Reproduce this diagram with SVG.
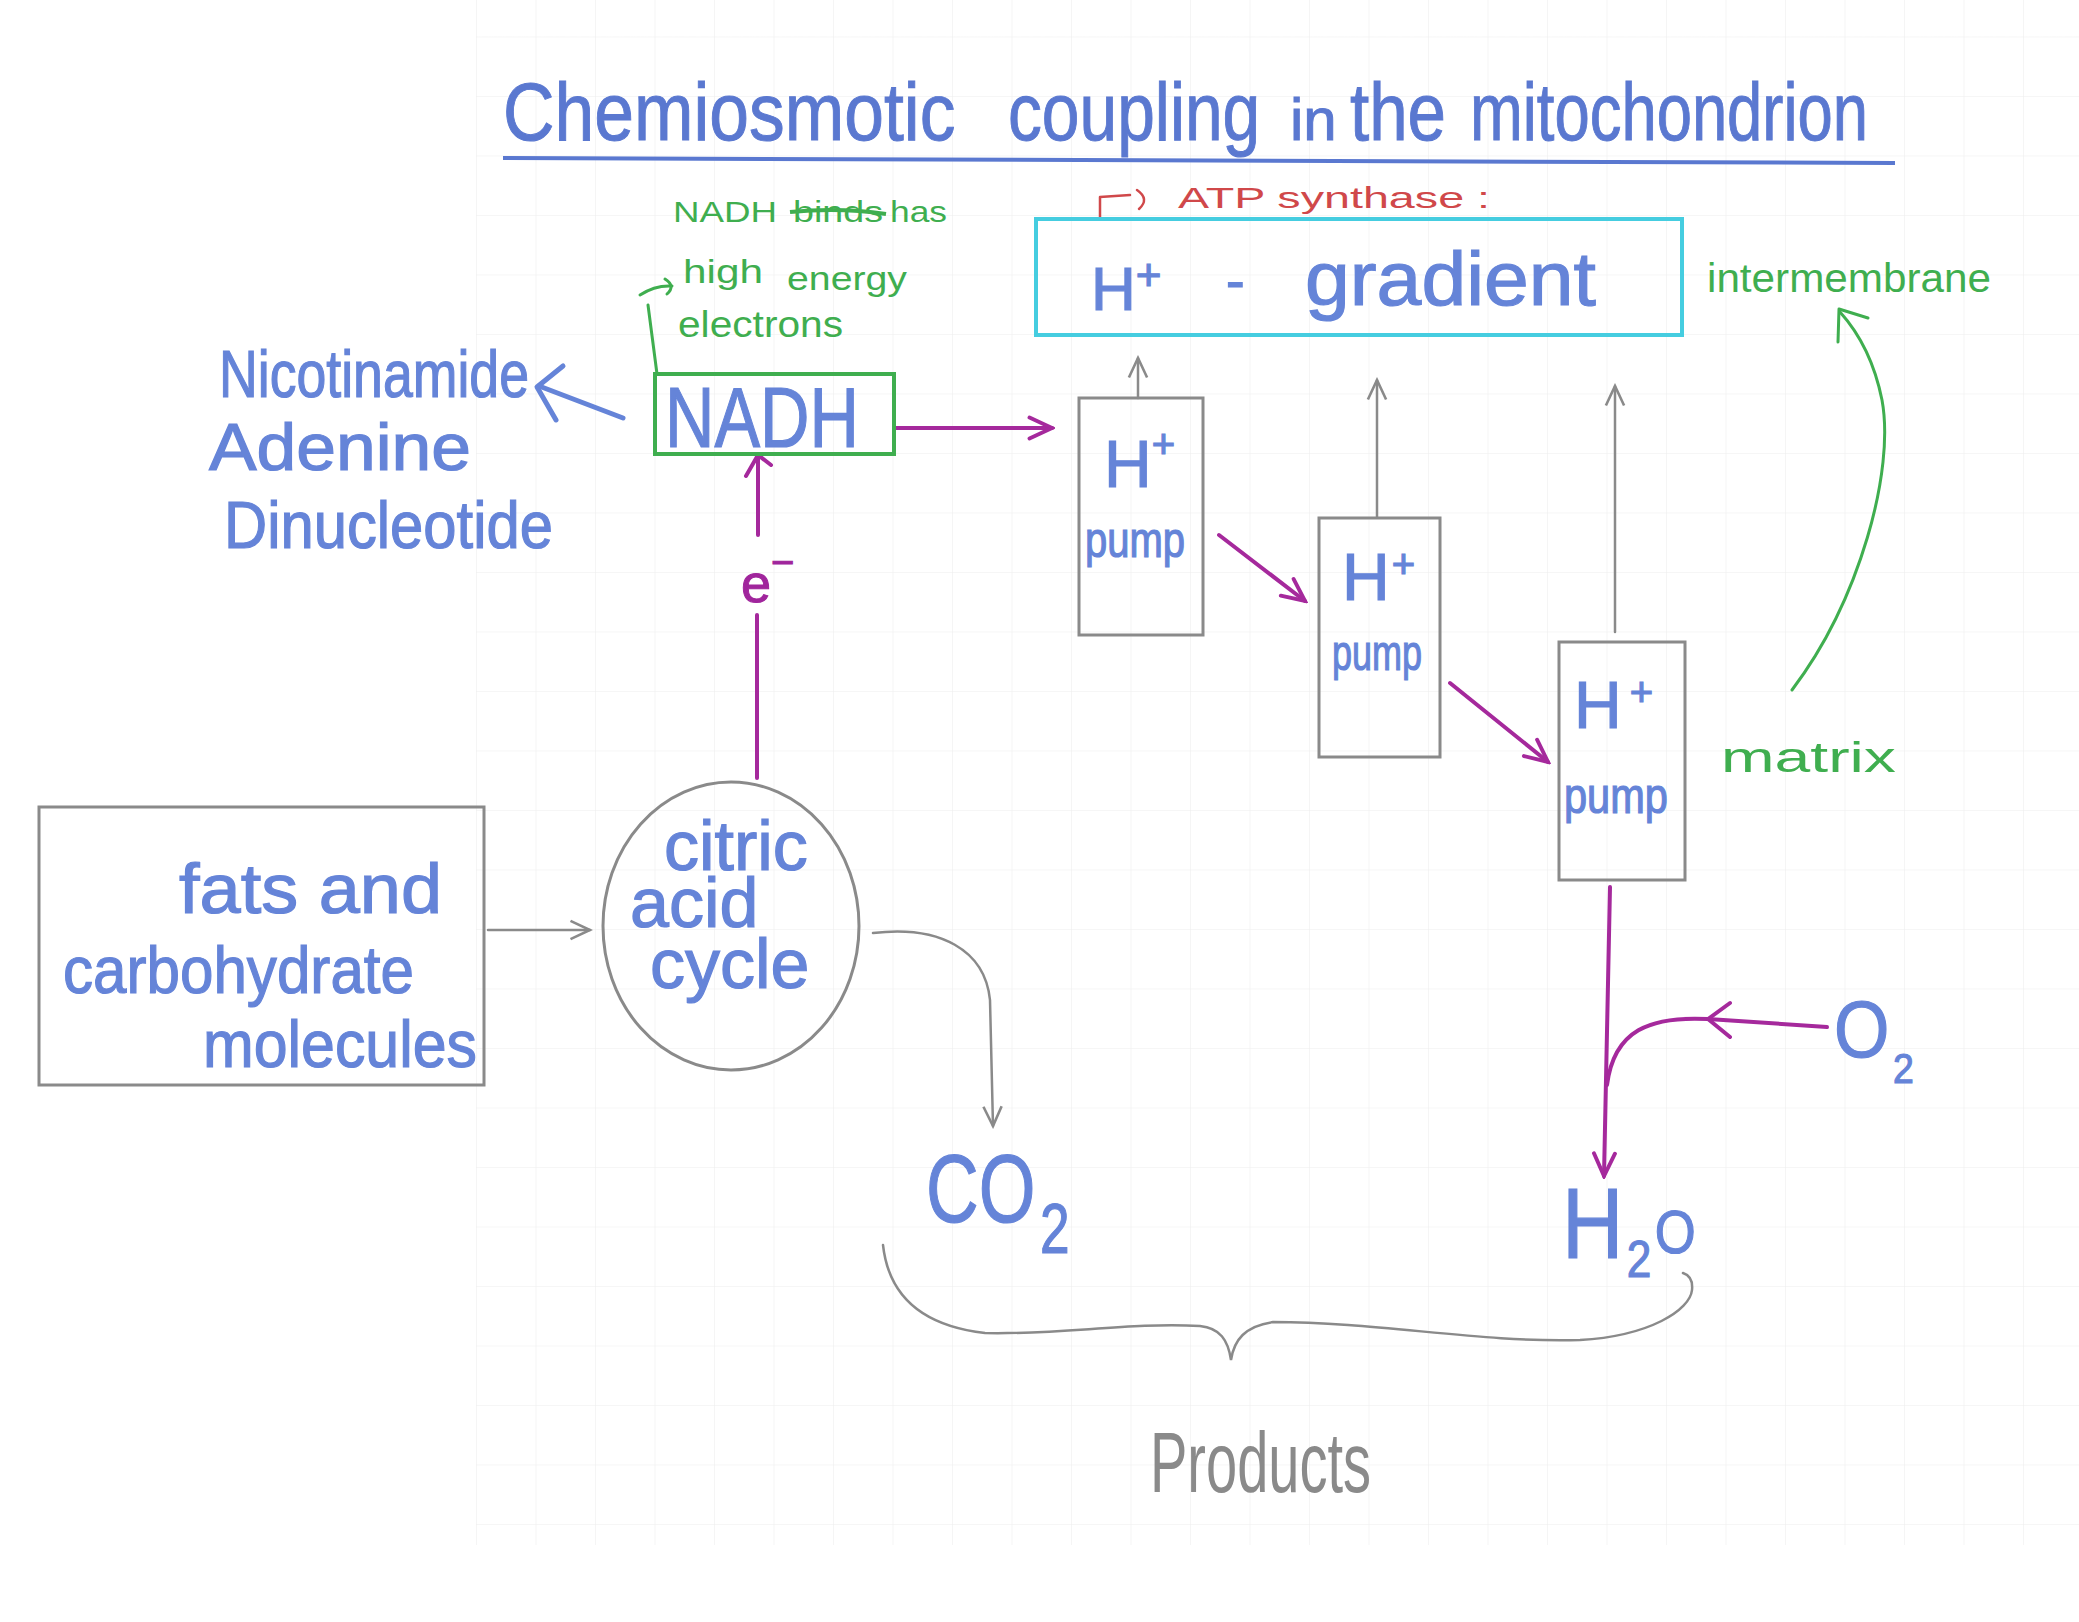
<svg xmlns="http://www.w3.org/2000/svg" width="2079" height="1622" viewBox="0 0 2079 1622">
<style>
text{font-family:"Liberation Sans",Arial,sans-serif}
.blue{fill:#6584d8;stroke:#6584d8;stroke-width:1.2}
.title{fill:#5a78d0;stroke:#5a78d0;stroke-width:1}
.green{fill:#3fae4f}
.red{fill:#d0484a}
.purpleT{fill:#a0259c;stroke:#a0259c;stroke-width:1}
.grayT{fill:#8a8a8a}
.box{fill:none;stroke:#8a8a8a;stroke-width:3}
.gline{fill:none;stroke:#8a8a8a;stroke-width:2.5;stroke-linecap:round}
.pline{fill:none;stroke:#a5299c;stroke-width:4;stroke-linecap:round;stroke-linejoin:round}
.grline{fill:none;stroke:#3fae4f;stroke-width:3;stroke-linecap:round;stroke-linejoin:round}
.bline{fill:none;stroke:#6584d8;stroke-width:5;stroke-linecap:round;stroke-linejoin:round}
.rline{fill:none;stroke:#d0484a;stroke-width:2.5;stroke-linecap:round;stroke-linejoin:round}
</style>
<defs>
<pattern id="grid" x="476" y="36.5" width="59.5" height="59.5" patternUnits="userSpaceOnUse">
<path d="M0,0 L0,59.5 M0,0 L59.5,0" fill="none" stroke="#eeeeee" stroke-width="1.2"/>
</pattern>
<marker id="ahGray" viewBox="0 0 20 20" refX="18" refY="10" markerWidth="26" markerHeight="26" markerUnits="userSpaceOnUse" orient="auto">
<path d="M3,3 L18,10 L3,17" fill="none" stroke="#8a8a8a" stroke-width="2"/>
</marker>
<marker id="ahPurple" viewBox="0 0 20 20" refX="18" refY="10" markerWidth="30" markerHeight="30" markerUnits="userSpaceOnUse" orient="auto">
<path d="M3,3 L18,10 L3,17" fill="none" stroke="#a5299c" stroke-width="2.6" stroke-linecap="round"/>
</marker>
</defs>
<rect x="0" y="0" width="2079" height="1622" fill="#ffffff"/>
<rect x="476" y="0" width="1603" height="1545" fill="url(#grid)"/>

<g id="title">
<text class="title" transform="translate(503,140) scale(0.871,1)" x="0" y="0" font-size="82">Chemiosmotic</text>
<text class="title" transform="translate(1008,140) scale(0.826,1)" x="0" y="0" font-size="82">coupling</text>
<text class="title" x="1290" y="140" font-size="60">in</text>
<text class="title" transform="translate(1350,140) scale(0.842,1)" x="0" y="0" font-size="82">the</text>
<text class="title" transform="translate(1470,140) scale(0.773,1)" x="0" y="0" font-size="82">mitochondrion</text>
<path d="M503,158 L1895,163" fill="none" stroke="#5a78d0" stroke-width="4"/>
</g>

<g id="connectors">
<!-- NADH to Nicotinamide -->
<path class="bline" d="M623,418 L539,386"/>
<path class="bline" d="M563,366 L537,387 L556,420"/>
<!-- NADH to first pump -->
<path class="pline" d="M895,428 L1052,428" marker-end="url(#ahPurple)"/>
<!-- citric cycle to NADH via e- -->
<path class="pline" d="M757,778 L757,615"/>
<path class="pline" d="M758,535 L758,457"/>
<path class="pline" d="M746,476 L758,455 L771,465"/>
<!-- pumps up to gradient -->
<path class="gline" d="M1138,398 L1138,358" marker-end="url(#ahGray)"/>
<path class="gline" d="M1377,517 L1377,380" marker-end="url(#ahGray)"/>
<path class="gline" d="M1615,632 L1615,386" stroke-width="3.5" marker-end="url(#ahGray)"/>
<!-- pump to pump -->
<path class="pline" d="M1219,535 L1305,601" marker-end="url(#ahPurple)"/>
<path class="pline" d="M1450,683 L1548,762" marker-end="url(#ahPurple)"/>
<!-- last pump to H2O -->
<path class="pline" d="M1610,887 L1604,1176" marker-end="url(#ahPurple)"/>
<!-- O2 joining -->
<path class="pline" d="M1827,1027 L1708,1019 C1650,1016 1614,1030 1607,1085"/>
<path class="pline" d="M1730,1003 L1708,1019 L1730,1037"/>
<!-- fats to citric -->
<path class="gline" d="M488,930 L590,930" marker-end="url(#ahGray)"/>
<!-- citric to CO2 -->
<path class="gline" d="M873,933 C940,925 985,950 990,1000 L993,1126" marker-end="url(#ahGray)"/>
<!-- matrix to intermembrane -->
<path class="grline" d="M1792,690 C1860,600 1895,470 1882,400 C1874,360 1858,332 1840,312"/>
<path class="grline" d="M1838,342 L1839,309 L1868,318" stroke-width="4"/>
<!-- ATP synthase pointer -->
<path class="rline" d="M1100,217 L1100,197 L1130,195"/>
<path class="rline" d="M1137,190 Q1150,199 1139,209"/>
<!-- products brace -->
<path class="gline" d="M883,1245 C888,1290 915,1325 985,1333 C1060,1335 1130,1322 1200,1326 C1220,1328 1228,1340 1231,1360 C1234,1340 1245,1326 1273,1322 C1380,1322 1480,1343 1580,1340 C1650,1336 1690,1310 1692,1290 C1693,1280 1689,1275 1683,1273" stroke-width="3"/>
</g>

<g id="atp-synthase">
<text class="red" x="1178" y="208" font-size="29" textLength="312" lengthAdjust="spacingAndGlyphs">ATP synthase :</text>
</g>

<g id="gradient">
<rect x="1036" y="219" width="646" height="116" fill="none" stroke="#45cde0" stroke-width="4"/>
<text class="blue" x="1091" y="310" font-size="62">H<tspan dy="-20" font-size="44">+</tspan></text>
<text class="blue" x="1226" y="300" font-size="56">-</text>
<text class="blue" x="1305" y="305" font-size="76" textLength="291" lengthAdjust="spacingAndGlyphs">gradient</text>
</g>

<g id="intermembrane">
<text class="green" x="1707" y="292" font-size="40" textLength="284" lengthAdjust="spacingAndGlyphs">intermembrane</text>
</g>
<g id="matrix">
<text class="green" x="1721" y="772" font-size="42" textLength="175" lengthAdjust="spacingAndGlyphs">matrix</text>
</g>

<g id="nadh-note">
<text class="green" x="673" y="222" font-size="30" textLength="104" lengthAdjust="spacingAndGlyphs">NADH</text>
<text class="green" x="793" y="222" font-size="30" textLength="90" lengthAdjust="spacingAndGlyphs">binds</text>
<path d="M790,212 Q840,207 886,214" fill="none" stroke="#3fae4f" stroke-width="4"/>
<text class="green" x="890" y="222" font-size="30" textLength="57" lengthAdjust="spacingAndGlyphs">has</text>
<path class="grline" d="M640,295 Q655,285 672,286"/>
<path class="grline" d="M665,279 Q676,286 667,294"/>
<text class="green" x="683" y="283" font-size="34" textLength="80" lengthAdjust="spacingAndGlyphs">high</text>
<text class="green" x="787" y="290" font-size="34" textLength="120" lengthAdjust="spacingAndGlyphs">energy</text>
<text class="green" x="678" y="337" font-size="36" textLength="165" lengthAdjust="spacingAndGlyphs">electrons</text>
<path class="grline" d="M648,305 L657,374"/>
</g>

<g id="nadh">
<rect x="655" y="374" width="239" height="80" fill="none" stroke="#3fae4f" stroke-width="4"/>
<text class="blue" x="665" y="447" font-size="86" textLength="194" lengthAdjust="spacingAndGlyphs">NADH</text>
</g>

<g id="nad-name">
<text class="blue" x="219" y="397" font-size="66" textLength="310" lengthAdjust="spacingAndGlyphs">Nicotinamide</text>
<text class="blue" x="209" y="470" font-size="66" textLength="262" lengthAdjust="spacingAndGlyphs">Adenine</text>
<text class="blue" x="224" y="548" font-size="66" textLength="329" lengthAdjust="spacingAndGlyphs">Dinucleotide</text>
</g>

<g id="electron">
<text class="purpleT" x="741" y="602" font-size="54">e<tspan dy="-26" font-size="40">−</tspan></text>
</g>

<g id="pump1">
<rect class="box" x="1079" y="398" width="124" height="237"/>
<text class="blue" x="1104" y="487" font-size="66">H<tspan dy="-29" font-size="40">+</tspan></text>
<text class="blue" x="1085" y="557" font-size="50" textLength="100" lengthAdjust="spacingAndGlyphs">pump</text>
</g>
<g id="pump2">
<rect class="box" x="1319" y="518" width="121" height="239"/>
<text class="blue" x="1342" y="600" font-size="66">H<tspan dx="2" dy="-22" font-size="40">+</tspan></text>
<text class="blue" x="1332" y="670" font-size="50" textLength="90" lengthAdjust="spacingAndGlyphs">pump</text>
</g>
<g id="pump3">
<rect class="box" x="1559" y="642" width="126" height="238"/>
<text class="blue" x="1574" y="728" font-size="66">H<tspan dx="8" dy="-22" font-size="40">+</tspan></text>
<text class="blue" x="1564" y="813" font-size="50" textLength="104" lengthAdjust="spacingAndGlyphs">pump</text>
</g>

<g id="fats">
<rect class="box" x="39" y="807" width="445" height="278"/>
<text class="blue" x="179" y="913" font-size="70" textLength="263" lengthAdjust="spacingAndGlyphs">fats and</text>
<text class="blue" x="63" y="993" font-size="66" textLength="351" lengthAdjust="spacingAndGlyphs">carbohydrate</text>
<text class="blue" x="203" y="1067" font-size="66" textLength="274" lengthAdjust="spacingAndGlyphs">molecules</text>
</g>

<g id="citric">
<ellipse class="box" cx="731" cy="926" rx="128" ry="144"/>
<text class="blue" font-size="70"><tspan x="664" y="870">citric</tspan><tspan x="630" y="927">acid</tspan><tspan x="650" y="988">cycle</tspan></text>
</g>

<g id="co2">
<text class="blue" transform="translate(926,1222) scale(0.76,1)" x="0" y="0" font-size="96">CO<tspan dx="6" dy="31" font-size="70">2</tspan></text>
</g>
<g id="h2o">
<text class="blue" transform="translate(1562,1258) scale(0.85,1)" x="0" y="0" font-size="100">H<tspan dx="4" dy="19" font-size="52">2</tspan><tspan dx="4" dy="-24" font-size="62">O</tspan></text>
</g>
<g id="o2">
<text class="blue" transform="translate(1834,1057) scale(0.89,1)" x="0" y="0" font-size="80">O<tspan dx="4" dy="26" font-size="42">2</tspan></text>
</g>

<g id="products">
<text class="grayT" x="1150" y="1492" font-size="86" textLength="221" lengthAdjust="spacingAndGlyphs">Products</text>
</g>
</svg>
